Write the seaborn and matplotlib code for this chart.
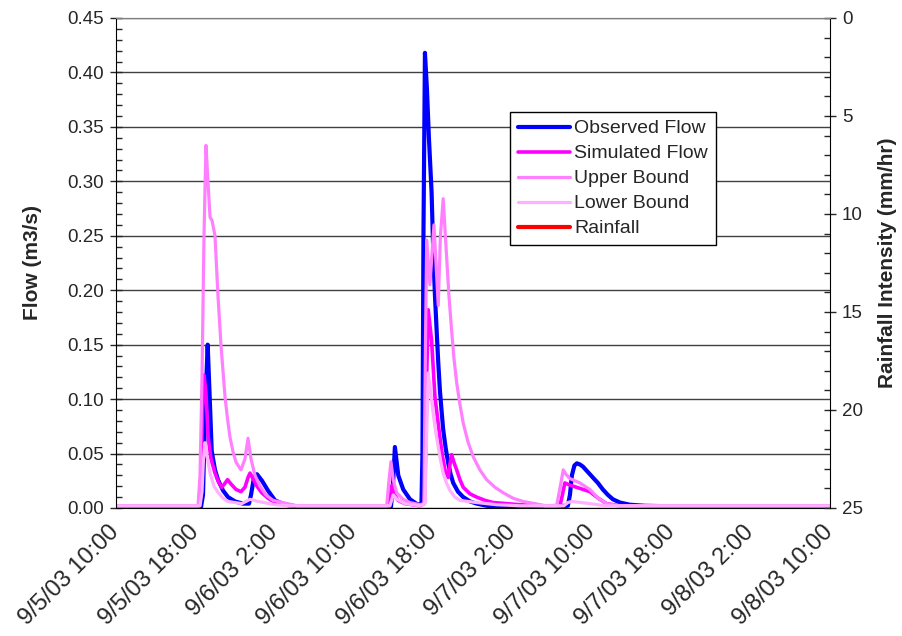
import matplotlib
matplotlib.use("Agg")
import matplotlib.pyplot as plt
from matplotlib.ticker import MultipleLocator, FormatStrFormatter
import seaborn as sns

# hours after 9/5/03 10:00, flow in m3/s
obs_t = [0, 8.57, 8.77, 8.97, 9.24, 9.43, 9.65, 9.98, 10.28, 10.79, 11.29, 12.0, 12.8, 13.41,
         13.61, 13.91, 14.21, 14.72, 15.32, 16.03, 17.04, 18.55, 27.72, 27.92, 28.12, 28.46,
         28.96, 29.64, 30.44, 30.8, 30.9, 31.0, 31.15, 31.35, 31.55, 31.82, 31.99, 32.16,
         32.33, 32.49, 32.66, 32.83, 32.99, 33.24, 33.5, 33.74, 34.0, 34.48, 35.01, 35.69,
         36.36, 37.4, 38.41, 45.56, 45.77, 45.97, 46.22, 46.47, 46.77, 47.08, 47.58, 48.08,
         48.59, 49.09, 49.6, 50.1, 50.81, 51.81, 53.33, 58.87, 72]
obs_q = [0.001, 0.001, 0.012, 0.085, 0.150, 0.105, 0.052, 0.035, 0.026, 0.016, 0.010, 0.006,
         0.004, 0.004, 0.012, 0.028, 0.031, 0.025, 0.016, 0.007, 0.003, 0.001, 0.001, 0.020,
         0.056, 0.030, 0.017, 0.008, 0.003, 0.004, 0.050, 0.250, 0.418, 0.385, 0.340, 0.290,
         0.235, 0.195, 0.163, 0.134, 0.108, 0.089, 0.072, 0.055, 0.041, 0.031, 0.023, 0.015,
         0.010, 0.006, 0.004, 0.002, 0.001, 0.002, 0.012, 0.030, 0.039, 0.041, 0.040, 0.038,
         0.033, 0.028, 0.023, 0.017, 0.012, 0.008, 0.005, 0.003, 0.002, 0.001, 0.001]

sim_t = [0, 8.37, 8.57, 8.72, 8.87, 9.07, 9.29, 9.58, 9.98, 10.33, 10.65, 10.93, 11.25, 11.59,
         12.1, 12.6, 13.0, 13.31, 13.51, 13.81, 14.21, 14.69, 15.32, 16.03, 17.54, 27.52,
         27.67, 27.82, 28.02, 28.43, 29.13, 30.65, 31.09, 31.25, 31.35, 31.48, 31.65, 31.82,
         32.16, 32.66, 32.91, 33.17, 33.5, 33.67, 33.84, 34.07, 34.35, 34.68, 35.01, 35.69,
         36.36, 37.2, 38.03, 40.73, 43.25, 44.76, 45.01, 45.26, 45.77, 46.77, 47.78, 48.61,
         49.46, 50.81, 72]
sim_q = [0.002, 0.002, 0.030, 0.090, 0.122, 0.105, 0.065, 0.045, 0.032, 0.024, 0.019, 0.022,
         0.026, 0.022, 0.017, 0.015, 0.019, 0.028, 0.032, 0.027, 0.020, 0.014, 0.009, 0.005,
         0.002, 0.002, 0.012, 0.021, 0.013, 0.007, 0.004, 0.002, 0.004, 0.060, 0.130, 0.182,
         0.168, 0.154, 0.102, 0.065, 0.048, 0.035, 0.028, 0.040, 0.049, 0.042, 0.035, 0.026,
         0.019, 0.013, 0.010, 0.007, 0.005, 0.003, 0.002, 0.002, 0.012, 0.023, 0.021, 0.018,
         0.015, 0.009, 0.004, 0.002, 0.002]

upper_t = [0, 8.27, 8.47, 8.67, 8.87, 9.07, 9.27, 9.48, 9.68, 9.98, 10.28, 10.58, 10.99, 11.24,
           11.49, 11.79, 12.1, 12.6, 13.0, 13.31, 13.61, 14.01, 14.52, 15.12, 15.83, 18.25,
           27.29, 27.52, 27.72, 27.97, 28.3, 28.93, 29.64, 30.65, 31.05, 31.2, 31.33, 31.65,
           32.06, 32.49, 32.71, 32.99, 33.34, 33.57, 33.84, 34.07, 34.35, 34.68, 35.01, 35.48,
           36.02, 36.69, 37.37, 38.21, 39.04, 40.02, 41.03, 42.24, 43.25, 44.43, 44.76, 45.1,
           45.36, 45.77, 46.77, 47.78, 48.61, 49.46, 50.81, 72]
upper_q = [0.002, 0.002, 0.030, 0.120, 0.250, 0.333, 0.300, 0.267, 0.264, 0.250, 0.195, 0.150,
           0.102, 0.082, 0.065, 0.052, 0.042, 0.035, 0.045, 0.064, 0.045, 0.030, 0.020, 0.012,
           0.007, 0.002, 0.002, 0.025, 0.0425, 0.025, 0.014, 0.008, 0.005, 0.003, 0.004, 0.150,
           0.246, 0.205, 0.260, 0.186, 0.250, 0.284, 0.230, 0.195, 0.163, 0.138, 0.115, 0.095,
           0.078, 0.061, 0.047, 0.035, 0.026, 0.019, 0.014, 0.009, 0.006, 0.004, 0.002, 0.002,
           0.018, 0.035, 0.031, 0.027, 0.023, 0.017, 0.009, 0.004, 0.002, 0.002]

lower_t = [0, 8.47, 8.67, 8.82, 8.97, 9.17, 9.48, 9.88, 10.31, 10.79, 11.29, 12.67, 13.1, 13.51,
           14.31, 16.03, 17.54, 27.62, 27.95, 28.33, 29.13, 30.65, 31.15, 31.3, 31.48, 31.71,
           31.98, 32.23, 32.49, 32.74, 32.99, 33.32, 33.67, 34.17, 34.68, 35.48, 36.36, 38.37,
           40.73, 45.16, 45.56, 45.97, 47.78, 49.31, 72]
lower_q = [0.002, 0.002, 0.015, 0.045, 0.060, 0.048, 0.032, 0.020, 0.014, 0.009, 0.006, 0.004,
           0.006, 0.008, 0.006, 0.003, 0.002, 0.002, 0.012, 0.008, 0.004, 0.002, 0.004, 0.060,
           0.124, 0.108, 0.087, 0.070, 0.056, 0.043, 0.032, 0.023, 0.016, 0.010, 0.007, 0.006,
           0.005, 0.003, 0.002, 0.002, 0.005, 0.006, 0.004, 0.002, 0.002]

# no rainfall trace is visible in the chart, only its legend entry
rain_t = []
rain_mm = []

tick_labels = ["9/5/03 10:00", "9/5/03 18:00", "9/6/03 2:00", "9/6/03 10:00", "9/6/03 18:00",
               "9/7/03 2:00", "9/7/03 10:00", "9/7/03 18:00", "9/8/03 2:00", "9/8/03 10:00"]

sns.set_style("white")
plt.rcParams['font.family'] = ['Liberation Sans', 'DejaVu Sans']

fig = plt.figure(figsize=(9.03, 6.36), dpi=100)
ax = fig.add_axes([0.1285, 0.2013, 0.7907, 0.7704])

sns.lineplot(x=obs_t, y=obs_q, ax=ax, color='#0000FF', lw=3.0, label='Observed Flow')
sns.lineplot(x=sim_t, y=sim_q, ax=ax, color='#FF00FF', lw=2.6, label='Simulated Flow')
sns.lineplot(x=upper_t, y=upper_q, ax=ax, color='#FF80FF', lw=2.3, label='Upper Bound')
sns.lineplot(x=lower_t, y=lower_q, ax=ax, color='#FFB0FF', lw=2.3, label='Lower Bound')

ax.set_xlim(0, 72)
ax.set_ylim(0, 0.45)
ax.set_xticks(range(0, 73, 8))
ax.set_xticklabels(tick_labels, rotation=45, ha='right', va='center', rotation_mode='anchor')
ax.xaxis.set_minor_locator(MultipleLocator(2))
ax.yaxis.set_major_locator(MultipleLocator(0.05))
ax.yaxis.set_minor_locator(MultipleLocator(0.01))
ax.yaxis.set_major_formatter(FormatStrFormatter('%.2f'))
ax.grid(axis='y', color='#404040', lw=1.0)
ax.grid(axis='x', visible=False)
ax.set_axisbelow(True)

ax.tick_params(axis='x', which='major', direction='out', length=7, width=1, labelsize=17, pad=8)
ax.tick_params(axis='x', which='minor', direction='in', length=4, width=1)
ax.tick_params(axis='y', which='major', direction='inout', length=9, width=1, labelsize=13.5, pad=4)
ax.tick_params(axis='y', which='minor', direction='in', length=4, width=1, left=True)

ax.set_ylabel('Flow (m3/s)', fontsize=15, fontweight='bold', labelpad=18)
ax.set_xlabel('')
for side in ['left', 'bottom']:
    ax.spines[side].set_color('black')
ax.spines['top'].set_color('#808080')
ax.spines['right'].set_visible(False)

ax2 = ax.twinx()
ax2.plot(rain_t, rain_mm, color='#FF0000', lw=3.0, label='Rainfall')
ax2.set_ylim(25, 0)
ax2.yaxis.set_major_locator(MultipleLocator(5))
ax2.yaxis.set_minor_locator(MultipleLocator(1))
ax2.tick_params(axis='y', which='major', direction='inout', length=9, width=1, labelsize=13.5, pad=4)
ax2.tick_params(axis='y', which='minor', direction='in', length=4, width=1, right=True)
ax2.set_ylabel('Rainfall Intensity (mm/hr)', fontsize=15, fontweight='bold', labelpad=11)
ax2.spines['right'].set_color('black')
ax2.spines['top'].set_color('#808080')
for side in ['left', 'bottom']:
    ax2.spines[side].set_visible(False)

h1, l1 = ax.get_legend_handles_labels()
h2, l2 = ax2.get_legend_handles_labels()
ax.get_legend().remove()
leg = ax2.legend(h1 + h2, l1 + l2, loc='upper left', bbox_to_anchor=(0.552, 0.808),
                 fontsize=14, frameon=True, fancybox=False, framealpha=1, edgecolor='black',
                 handlelength=2.7, handletextpad=0.2, labelspacing=0.38, borderpad=0.4,
                 borderaxespad=0)
leg.get_frame().set_linewidth(1.0)

fig.savefig('out.png', dpi=100)
